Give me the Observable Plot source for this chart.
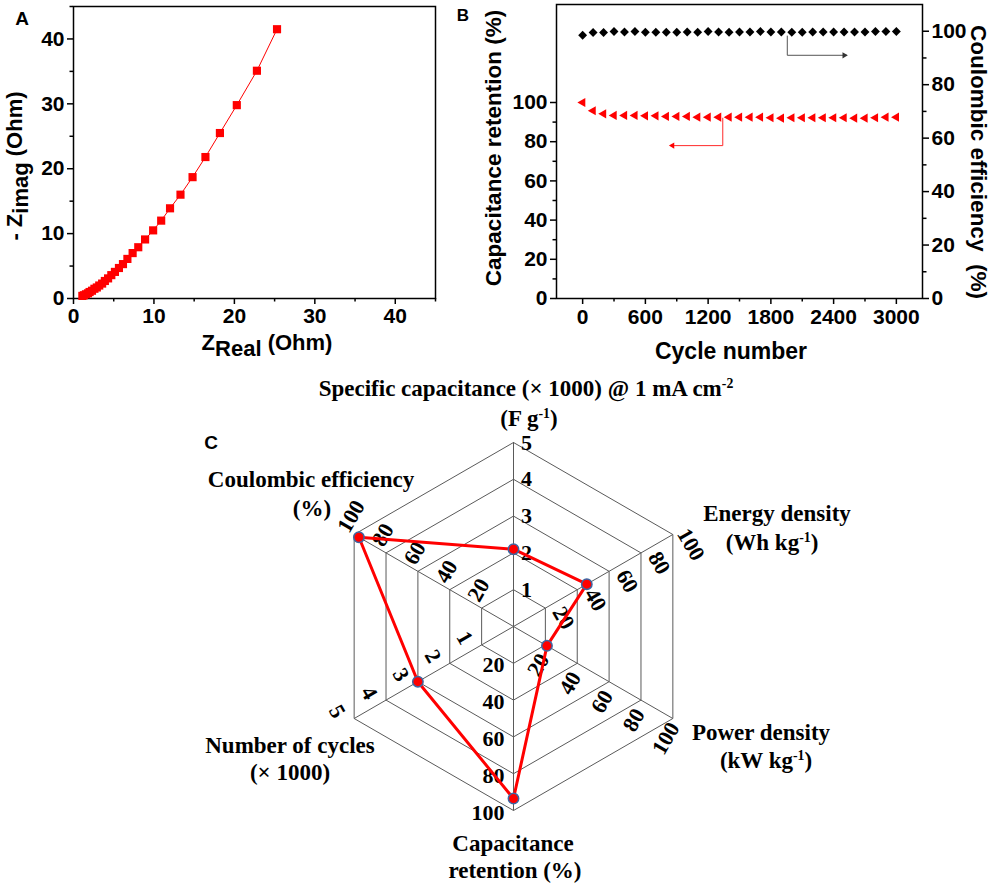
<!DOCTYPE html>
<html><head><meta charset="utf-8">
<script src="https://cdn.jsdelivr.net/npm/d3@7"></script>
<script src="https://cdn.jsdelivr.net/npm/@observablehq/plot@0.6"></script>
<style>
body{margin:0;background:#fff;}
#fig{position:relative;width:992px;height:886px;overflow:hidden;background:#fff;}
#fig svg{position:absolute;overflow:visible;}
.lbl{position:absolute;white-space:nowrap;line-height:1;font-weight:bold;color:#000;transform-origin:center;}
.sans{font-family:"Liberation Sans",Arial,sans-serif;}
.serif{font-family:"Liberation Serif","Times New Roman",serif;}
sup{font-size:0.6em;vertical-align:0;position:relative;top:-0.6em;}
.sub{position:relative;top:0.28em;}
</style></head><body><div id="fig"></div>
<script>
// ---------- Panel A data (Nyquist) ----------
const zReal = [1.1, 1.3, 1.55, 1.8, 2.0, 2.3, 2.6, 2.9, 3.2, 3.56, 3.9, 4.3, 4.7, 5.15, 5.65, 6.15, 6.7, 7.35, 8.05, 8.9, 9.9, 10.9, 12.0, 13.3, 14.8, 16.4, 18.2, 20.3, 22.8, 25.3];
const zImag = [0.4, 0.5, 0.65, 0.8, 1.0, 1.2, 1.5, 1.7, 2.0, 2.3, 2.7, 3.1, 3.6, 4.1, 4.7, 5.3, 6.1, 7.0, 7.9, 9.1, 10.5, 12.0, 13.9, 16.0, 18.7, 21.8, 25.5, 29.8, 35.1, 41.5];
const aTicks = [0, 10, 20, 30, 40];
const aMinor = [5, 15, 25, 35, 45];

// ---------- Panel B data ----------
const cycles = [0,100,200,300,400,500,600,700,800,900,1000,1100,1200,1300,1400,1500,1600,1700,1800,1900,2000,2100,2200,2300,2400,2500,2600,2700,2800,2900,3000];
const capRetention = [100.0, 95.8, 94.2, 93.4, 93.4, 93.4, 93.2, 93.2, 92.9, 92.9, 92.9, 92.5, 92.5, 92.5, 92.5, 92.5, 92.5, 92.5, 92.2, 92.0, 92.2, 92.2, 92.2, 92.2, 92.2, 92.2, 92.0, 92.0, 92.2, 92.5, 92.5];
const coulombicEff = [98.5, 99.5, 99.5, 99.9, 99.7, 99.9, 99.6, 99.6, 99.6, 99.6, 99.7, 99.6, 99.9, 99.7, 99.6, 99.7, 99.7, 99.9, 99.7, 99.7, 99.6, 99.6, 99.7, 99.7, 99.7, 99.7, 99.7, 99.7, 99.9, 99.9, 99.9];
const bXTicks = [0, 600, 1200, 1800, 2400, 3000];
const bXMinor = [300, 900, 1500, 2100, 2700];
const bLeftTicks = [0, 20, 40, 60, 80, 100];
const bLeftMinor = [10, 30, 50, 70, 90];
const bRightTicks = [0, 20, 40, 60, 80, 100];
const bRightMinor = [10, 30, 50, 70, 90];
// annotation arrows (data units: cycle, value on their own axis)
const redArrowCycle = [1340, 1340, 840];
const redArrowValue = [92, 78, 78];
const blackArrowCycle = [1957, 1957, 2521];
const blackArrowValue = [98.2, 91, 91];

// ---------- Panel C data (radar) ----------
const radarAxes = ["Specific capacitance", "Energy density", "Power density", "Capacitance retention", "Number of cycles", "Coulombic efficiency"];
const radarMax = [5, 100, 100, 100, 5, 100];
const radarValues = [2.1, 46, 21, 93.5, 3, 97];
const radarTickLabels = [[1,2,3,4,5],[20,40,60,80,100],[20,40,60,80,100],[20,40,60,80,100],[1,2,3,4,5],[20,40,60,80,100]];
const radarLevels = [0.2, 0.4, 0.6, 0.8, 1.0];

const fig = document.getElementById("fig");
const red = "#ff0000";
const TF = 21; // tick font size
const sansStyle = {fontFamily: "Liberation Sans, Arial, sans-serif", fontSize: TF + "px", fontWeight: "bold", background: "transparent", overflow: "visible", color: "#000"};

function place(svg, left, top) { svg.style.left = left + "px"; svg.style.top = top + "px"; fig.appendChild(svg); }
function label(html, x, y, cls, size, rot = 0) {
  const d = document.createElement("div");
  d.className = "lbl " + cls;
  d.innerHTML = html;
  d.style.left = x + "px"; d.style.top = y + "px"; d.style.fontSize = size + "px";
  d.style.transform = `translate(-50%,-50%) rotate(${rot}deg)`;
  fig.appendChild(d);
}
const blank = () => "";
const plain = d => String(d);

// ---------- Panel A ----------
const nyq = zReal.map((x, i) => ({x, y: zImag[i]}));
const plotA = Plot.plot({
  width: 470, height: 360, marginLeft: 73, marginRight: 35, marginTop: 6, marginBottom: 62,
  x: {domain: [0, 45]}, y: {domain: [0, 45]},
  style: sansStyle,
  marks: [
    Plot.axisX(aTicks, {tickSize: 6, tickPadding: 4, strokeWidth: 1.5, label: null, fontSize: TF, tickFormat: plain}),
    Plot.axisX(aMinor, {tickSize: 3.5, strokeWidth: 1.5, tickFormat: blank, label: null}),
    Plot.axisY(aTicks, {tickSize: 6, tickPadding: 3, strokeWidth: 1.5, label: null, fontSize: TF, tickFormat: plain}),
    Plot.axisY(aMinor, {tickSize: 3.5, strokeWidth: 1.5, tickFormat: blank, label: null}),
    Plot.frame({stroke: "#000", strokeWidth: 1.5}),
    Plot.line(nyq, {x: "x", y: "y", stroke: red, strokeWidth: 1}),
    Plot.dot(nyq, {x: "x", y: "y", symbol: "square", fill: red, r: 4.6})
  ]
});
place(plotA, 0, 0);

// ---------- Panel B ----------
const bData = cycles.map((c, i) => ({c, cap: capRetention[i], ce: coulombicEff[i]}));
const redArrow = redArrowCycle.map((c, i) => ({c, v: redArrowValue[i]}));
const blackArrow = blackArrowCycle.map((c, i) => ({c, v: blackArrowValue[i]}));
const bDims = {width: 522, height: 360, marginLeft: 86, marginRight: 70, marginTop: 4, marginBottom: 62};
const plotB1 = Plot.plot({
  ...bDims,
  x: {domain: [-250, 3250]}, y: {domain: [0, 150]},
  style: sansStyle,
  marks: [
    Plot.axisX(bXTicks, {tickSize: 6, tickPadding: 5, strokeWidth: 1.5, label: null, fontSize: TF, tickFormat: plain}),
    Plot.axisX(bXMinor, {tickSize: 3.5, strokeWidth: 1.5, tickFormat: blank, label: null}),
    Plot.axisY(bLeftTicks, {tickSize: 6, tickPadding: 3, strokeWidth: 1.5, label: null, fontSize: TF, tickFormat: plain}),
    Plot.axisY(bLeftMinor, {tickSize: 3.5, strokeWidth: 1.5, tickFormat: blank, label: null}),
    Plot.frame({stroke: "#000", strokeWidth: 1.5}),
    Plot.line(redArrow, {x: "c", y: "v", stroke: "#ff2a2a", strokeWidth: 1}),
    Plot.dot(redArrow.slice(-1), {x: "c", y: "v", symbol: "triangle", rotate: -90, fill: red, r: 2.3, dx: 2}),
    Plot.dot(bData, {x: "c", y: "cap", symbol: "triangle", rotate: -90, fill: red, r: 3.4})
  ]
});
place(plotB1, 470, 0);
const plotB2 = Plot.plot({
  ...bDims,
  x: {domain: [-250, 3250], axis: null}, y: {domain: [0, 110]},
  style: sansStyle,
  marks: [
    Plot.axisY(bRightTicks, {anchor: "right", tickSize: 6, tickPadding: 3, strokeWidth: 1.5, label: null, fontSize: TF, tickFormat: plain}),
    Plot.axisY(bRightMinor, {anchor: "right", tickSize: 3.5, strokeWidth: 1.5, tickFormat: blank, label: null}),
    Plot.line(blackArrow, {x: "c", y: "v", stroke: "#555", strokeWidth: 1}),
    Plot.dot(blackArrow.slice(-1), {x: "c", y: "v", symbol: "triangle", rotate: 90, fill: "#333", r: 2.3, dx: -2}),
    Plot.dot(bData, {x: "c", y: "ce", symbol: "diamond2", fill: "#000", r: 4})
  ]
});
place(plotB2, 470, 0);

// ---------- Panel C (radar) ----------
const R = 184, cxp = 513, cyp = 266, cW = 992, cH = 526;
const ang = i => (90 - 60 * i) * Math.PI / 180;
const rings = radarLevels.flatMap(l => d3.range(7).map(k => ({l, x: l * Math.cos(ang(k % 6)), y: l * Math.sin(ang(k % 6))})));
const spokes = radarAxes.map((name, i) => ({name, x: Math.cos(ang(i)), y: Math.sin(ang(i))}));
const poly = radarValues.map((v, i) => ({x: v / radarMax[i] * Math.cos(ang(i)), y: v / radarMax[i] * Math.sin(ang(i))}));
const polyClosed = [...poly, poly[0]];
const labelStyle = [
  {dx: 13, dy: 0, rotate: 0, textAnchor: "middle"},
  {dx: 18, dy: 10, rotate: 60, textAnchor: "middle"},
  {dx: -7, dy: 20, rotate: -60, textAnchor: "middle"},
  {dx: -9, dy: 2, rotate: 0, textAnchor: "end"},
  {dx: -17, dy: -7, rotate: 60, textAnchor: "middle"},
  {dx: -3, dy: -18, rotate: -60, textAnchor: "middle"}
];
const tickMarks = radarTickLabels.map((ticks, i) => {
  const pts = ticks.map(t => ({t, x: t / radarMax[i] * Math.cos(ang(i)), y: t / radarMax[i] * Math.sin(ang(i))}));
  return Plot.text(pts, {x: "x", y: "y", text: d => String(d.t), ...labelStyle[i],
    fontFamily: "Liberation Serif, Times New Roman, serif", fontWeight: "bold", fontSize: 22, fill: "#000"});
});
const plotC = Plot.plot({
  width: cW, height: cH, margin: 0,
  x: {domain: [-cxp / R, (cW - cxp) / R], axis: null},
  y: {domain: [-(cH - cyp) / R, cyp / R], axis: null},
  style: {background: "transparent", overflow: "visible"},
  marks: [
    Plot.line(rings, {x: "x", y: "y", z: "l", stroke: "#5a5a5a", strokeWidth: 1}),
    Plot.link(spokes, {x1: () => 0, y1: () => 0, x2: "x", y2: "y", stroke: "#5a5a5a", strokeWidth: 1}),
    ...tickMarks,
    Plot.line(polyClosed, {x: "x", y: "y", stroke: red, strokeWidth: 3}),
    Plot.dot(poly, {x: "x", y: "y", r: 5.2, fill: red, stroke: "#3d66a3", strokeWidth: 1.5})
  ]
});
place(plotC, 0, 360);

// ---------- Text labels ----------
label("A", 22, 18, "sans", 19);
label("B", 463, 15, "sans", 17);
label("Z<span class='sub'>Real</span> (Ohm)", 267, 343, "sans", 22);
label("- Z<span class='sub'>imag</span> (Ohm)", 15, 166, "sans", 22, -90);
label("Capacitance retention (%)", 494, 148, "sans", 22.5, -90);
label("Coulombic efficiency&nbsp;&nbsp;(%)", 978, 162, "sans", 22.5, 90);
label("Cycle number", 731, 351, "sans", 23);
label("C", 211, 442, "sans", 19);
label("Specific capacitance (× 1000) @ 1 mA cm<sup>-2</sup>", 526, 388, "serif", 23);
label("(F g<sup>-1</sup>)", 529, 418, "serif", 23);
label("Coulombic efficiency", 311, 479, "serif", 23);
label("(%)", 312, 508, "serif", 23);
label("Energy density", 777, 513, "serif", 23);
label("(Wh kg<sup>-1</sup>)", 772, 542, "serif", 23);
label("Power density", 761, 732, "serif", 23);
label("(kW kg<sup>-1</sup>)", 766, 760, "serif", 23);
label("Number of cycles", 290, 745, "serif", 23);
label("(× 1000)", 290, 772, "serif", 23);
label("Capacitance", 513, 843, "serif", 23);
label("retention (%)", 515, 870, "serif", 23);
</script></body></html>
